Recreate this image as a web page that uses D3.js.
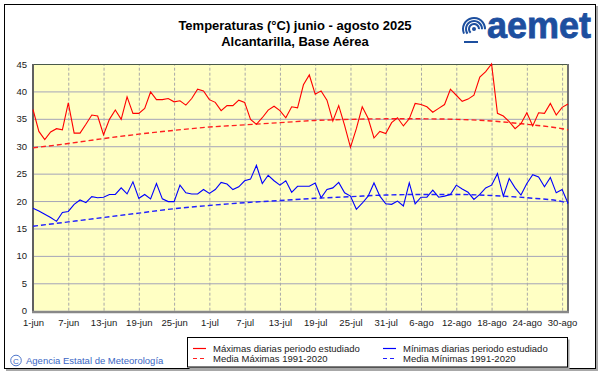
<!DOCTYPE html>
<html>
<head>
<meta charset="utf-8">
<script src="https://cdn.jsdelivr.net/npm/d3@7"></script>
<style>
body { margin: 0; background: #fff; }
svg { display: block; font-family: "Liberation Sans", Arial, sans-serif; }
</style>
</head>
<body>
<script>
var width = 601,
	height = 374;

// Daily values, 1-jun (day 0) to 31-ago (day 91)
var maxDaily = [
	36.7, 32.7, 31.2, 32.6, 33.2, 33.0, 37.9, 32.4, 32.4, 34.0,
	35.7, 35.5, 32.1, 34.9, 36.6, 34.9, 39.0, 36.0, 36.0, 36.9,
	39.9, 38.5, 38.5, 38.7, 38.1, 38.3, 37.5, 38.7, 40.4, 40.1,
	38.5, 38.0, 36.5, 37.4, 37.4, 38.4, 38.0, 34.9, 34.0, 35.2,
	36.6, 37.3, 36.5, 35.2, 37.2, 37.0, 41.2, 43.0, 39.5, 40.1,
	38.4, 34.6, 37.4, 33.8, 29.8, 33.2, 37.2, 35.1, 31.5, 32.7,
	32.3, 34.3, 35.2, 33.7, 35.0, 37.8, 37.6, 37.2, 36.2, 36.9,
	37.6, 40.4, 39.3, 38.2, 38.6, 39.3, 42.6, 43.6, 45.0, 36.0,
	35.5, 34.5, 33.2, 34.1, 36.1, 33.7, 36.1, 36.0, 37.8, 35.7,
	37.1, 37.7];

var minDaily = [
	18.7, 18.2, 17.6, 17.0, 16.3, 17.9, 18.1, 19.4, 20.2, 19.7,
	20.8, 20.6, 20.7, 21.2, 21.2, 22.4, 21.3, 23.5, 20.5, 21.2,
	20.4, 23.2, 20.4, 19.9, 19.9, 22.9, 21.5, 21.3, 21.3, 22.1,
	21.4, 22.1, 23.4, 23.1, 22.1, 22.6, 23.7, 24.0, 26.5, 23.2,
	24.7, 23.7, 22.9, 23.7, 21.6, 22.7, 22.7, 22.7, 23.3, 20.6,
	22.1, 22.4, 23.4, 21.5, 20.9, 18.5, 19.6, 20.9, 23.3, 20.9,
	19.5, 19.4, 20.0, 19.1, 23.3, 19.5, 20.7, 20.7, 22.0, 20.7,
	20.9, 21.2, 22.9, 22.2, 21.6, 20.3, 21.2, 22.4, 22.9, 25.0,
	20.9, 24.1, 22.4, 21.1, 23.2, 24.8, 24.4, 22.6, 24.3, 21.5,
	22.1, 19.6];

// 1991-2020 normals, read at these days
var meanDays = [0, 6, 12, 18, 24, 30, 36, 42, 48, 54, 60, 66, 72, 78, 84, 90, 91];
var meanMax = [29.7, 30.5, 31.4, 32.2, 32.9, 33.5, 33.9, 34.3, 34.7, 34.9, 35.0, 35.0, 34.9, 34.6, 34.0, 33.2, 33.0];
var meanMin = [15.4, 16.2, 17.0, 17.8, 18.6, 19.2, 19.7, 20.1, 20.5, 20.8, 21.1, 21.2, 21.2, 21.0, 20.6, 19.9, 19.6];

var tickDays = [0, 6, 12, 18, 24, 30, 36, 42, 48, 54, 60, 66, 72, 78, 84, 90];
var tickLabels = ["1-jun", "7-jun", "13-jun", "19-jun", "25-jun", "1-jul", "7-jul", "13-jul",
	"19-jul", "25-jul", "31-jul", "6-ago", "12-ago", "18-ago", "24-ago", "30-ago"];
var yTicks = [0, 5, 10, 15, 20, 25, 30, 35, 40, 45];

var legendItems = [
	{ label: "Máximas diarias periodo estudiado", color: "#ff0000", dash: null },
	{ label: "Mínimas diarias periodo estudiado", color: "#0000ff", dash: null },
	{ label: "Media Máximas 1991-2020", color: "#ff2020", dash: "4,3" },
	{ label: "Media Mínimas 1991-2020", color: "#2020ff", dash: "4,3" }
];

var plot = { left: 33, top: 64, right: 568, bottom: 310.7 };

var x = d3.scaleLinear()
	.domain([0, 91])
	.range([plot.left, plot.right]);

var y = d3.scaleLinear()
	.domain([0, 45])
	.range([plot.bottom, plot.top]);

var svg = d3.select("body").append("svg")
	.attr("width", width)
	.attr("height", height);

// Outer frame with shadow
svg.append("rect")
	.attr("x", 6).attr("y", 6)
	.attr("width", 592).attr("height", 365)
	.attr("fill", "#a8a8a8");
svg.append("rect")
	.attr("x", 4.5).attr("y", 4.5)
	.attr("width", 591).attr("height", 364)
	.attr("fill", "#fff")
	.attr("stroke", "#000");

// Title
svg.append("text")
	.attr("x", 295).attr("y", 30)
	.attr("text-anchor", "middle")
	.style("font-size", "13px").style("font-weight", "bold")
	.text("Temperaturas (°C) junio - agosto 2025");
svg.append("text")
	.attr("x", 295).attr("y", 46)
	.attr("text-anchor", "middle")
	.style("font-size", "13px").style("font-weight", "bold")
	.text("Alcantarilla, Base Aérea");

// aemet logo (simplified)
var logo = svg.append("g").attr("transform", "translate(474,29)");
[4, 7, 10].forEach(function(r, i) {
	logo.append("path")
		.attr("d", d3.arc()({ innerRadius: r, outerRadius: r + 2, startAngle: -2.4 + i * 0.2, endAngle: 1.6 }))
		.attr("fill", "#1d4f9f");
});
logo.append("circle").attr("cx", 0).attr("cy", 0).attr("r", 2).attr("fill", "#1d4f9f");
logo.append("rect").attr("x", -10).attr("y", 12).attr("width", 14).attr("height", 2).attr("fill", "#1d4f9f");
svg.append("text")
	.attr("x", 487).attr("y", 38)
	.style("font-size", "36px").style("font-weight", "bold")
	.attr("fill", "#1d4f9f")
	.attr("stroke", "#1d4f9f").attr("stroke-width", 0.8)
	.text("aemet");

// Plot background
svg.append("rect")
	.attr("x", plot.left).attr("y", plot.top)
	.attr("width", plot.right - plot.left).attr("height", plot.bottom - plot.top)
	.attr("fill", "#ffffc4");

// Horizontal gridlines
svg.append("g")
	.attr("transform", "translate(" + plot.left + ",0)")
	.call(d3.axisLeft(y).tickValues(yTicks.slice(1, -1)).tickSize(-(plot.right - plot.left)).tickFormat(""))
	.call(function(g) { g.select(".domain").remove(); })
	.selectAll("line")
		.attr("stroke", "#a4a4b8");

// Vertical gridlines
svg.append("g")
	.attr("transform", "translate(0," + plot.bottom + ")")
	.call(d3.axisBottom(x).tickValues(tickDays.slice(1)).tickSize(-(plot.bottom - plot.top)).tickFormat(""))
	.call(function(g) { g.select(".domain").remove(); })
	.selectAll("line")
		.attr("stroke", "#a8a8a8")
		.attr("stroke-dasharray", "3,2");

// Plot border
svg.append("line").attr("x1", plot.left).attr("x2", plot.right).attr("y1", plot.top + 0.5).attr("y2", plot.top + 0.5)
	.attr("stroke", "#4a5a4a");
svg.append("line").attr("x1", plot.left).attr("x2", plot.left).attr("y1", plot.top).attr("y2", plot.bottom + 2)
	.attr("stroke", "#606060").attr("stroke-width", 2);
svg.append("line").attr("x1", plot.right).attr("x2", plot.right).attr("y1", plot.top).attr("y2", plot.bottom + 2)
	.attr("stroke", "#707070").attr("stroke-width", 2);
svg.append("line").attr("x1", plot.left - 1).attr("x2", plot.right + 1).attr("y1", plot.bottom + 1.3).attr("y2", plot.bottom + 1.3)
	.attr("stroke", "#888").attr("stroke-width", 2.6);

// Axis labels
svg.append("g")
	.attr("transform", "translate(" + (plot.left - 6) + ",0)")
	.call(d3.axisLeft(y).tickValues(yTicks).tickSize(0).tickPadding(0))
	.call(function(g) { g.select(".domain").remove(); })
	.selectAll("text")
		.style("font-size", "9.5px")
		.style("font-family", "'Liberation Sans', Arial, sans-serif")
		.attr("fill", "#1a1a1a");

svg.append("g")
	.attr("transform", "translate(0," + (plot.bottom + 7) + ")")
	.call(d3.axisBottom(x).tickValues(tickDays).tickSize(0).tickPadding(2)
		.tickFormat(function(d, i) { return tickLabels[i]; }))
	.call(function(g) { g.select(".domain").remove(); })
	.selectAll("text")
		.style("font-size", "9.5px")
		.style("font-family", "'Liberation Sans', Arial, sans-serif")
		.attr("fill", "#1a1a1a");

// Series lines
var line = d3.line()
	.x(function(d, i) { return x(i); })
	.y(function(d) { return y(d); });

var meanLine = d3.line()
	.x(function(d, i) { return x(meanDays[i]); })
	.y(function(d) { return y(d); })
	.curve(d3.curveMonotoneX);

svg.append("path").datum(meanMax)
	.attr("d", meanLine).attr("fill", "none")
	.attr("stroke", "#ff2020").attr("stroke-width", 1.4).attr("stroke-dasharray", "5,3");
svg.append("path").datum(meanMin)
	.attr("d", meanLine).attr("fill", "none")
	.attr("stroke", "#2020ff").attr("stroke-width", 1.4).attr("stroke-dasharray", "5,3");

svg.append("path").datum(maxDaily)
	.attr("d", line).attr("fill", "none")
	.attr("stroke", "#ff0000").attr("stroke-width", 1.1);
svg.append("path").datum(minDaily)
	.attr("d", line).attr("fill", "none")
	.attr("stroke", "#0000ff").attr("stroke-width", 1.1);

// Legend
svg.append("rect")
	.attr("x", 189.5).attr("y", 339.5)
	.attr("width", 380).attr("height", 29.5)
	.attr("fill", "#a8a8a8");
svg.append("rect")
	.attr("x", 187.5).attr("y", 337.5)
	.attr("width", 380).attr("height", 29.5)
	.attr("fill", "#fff").attr("stroke", "#000");

var legend = svg.selectAll(".legend-item")
	.data(legendItems)
	.enter().append("g")
		.attr("class", "legend-item")
		.attr("transform", function(d, i) {
			return "translate(" + (i % 2 === 0 ? 193 : 383) + "," + (i < 2 ? 348.5 : 358.5) + ")";
		});

legend.append("line")
	.attr("x1", 0).attr("x2", 13)
	.attr("stroke", function(d) { return d.color; })
	.attr("stroke-width", 1.2)
	.attr("stroke-dasharray", function(d) { return d.dash; });

legend.append("text")
	.attr("x", 20).attr("y", 3.5)
	.style("font-size", "9.5px")
	.attr("fill", "#1a1a1a")
	.text(function(d) { return d.label; });

// Copyright
svg.append("circle")
	.attr("cx", 16).attr("cy", 360.5).attr("r", 5.3)
	.attr("fill", "none").attr("stroke", "#3a66c4").attr("stroke-width", 0.9);
svg.append("text")
	.attr("x", 16).attr("y", 363.6)
	.attr("text-anchor", "middle")
	.style("font-size", "8px")
	.attr("fill", "#3a66c4")
	.text("C");
svg.append("text")
	.attr("x", 26).attr("y", 364)
	.style("font-size", "9.5px")
	.attr("fill", "#3a66c4")
	.text("Agencia Estatal de Meteorología");
</script>
</body>
</html>
